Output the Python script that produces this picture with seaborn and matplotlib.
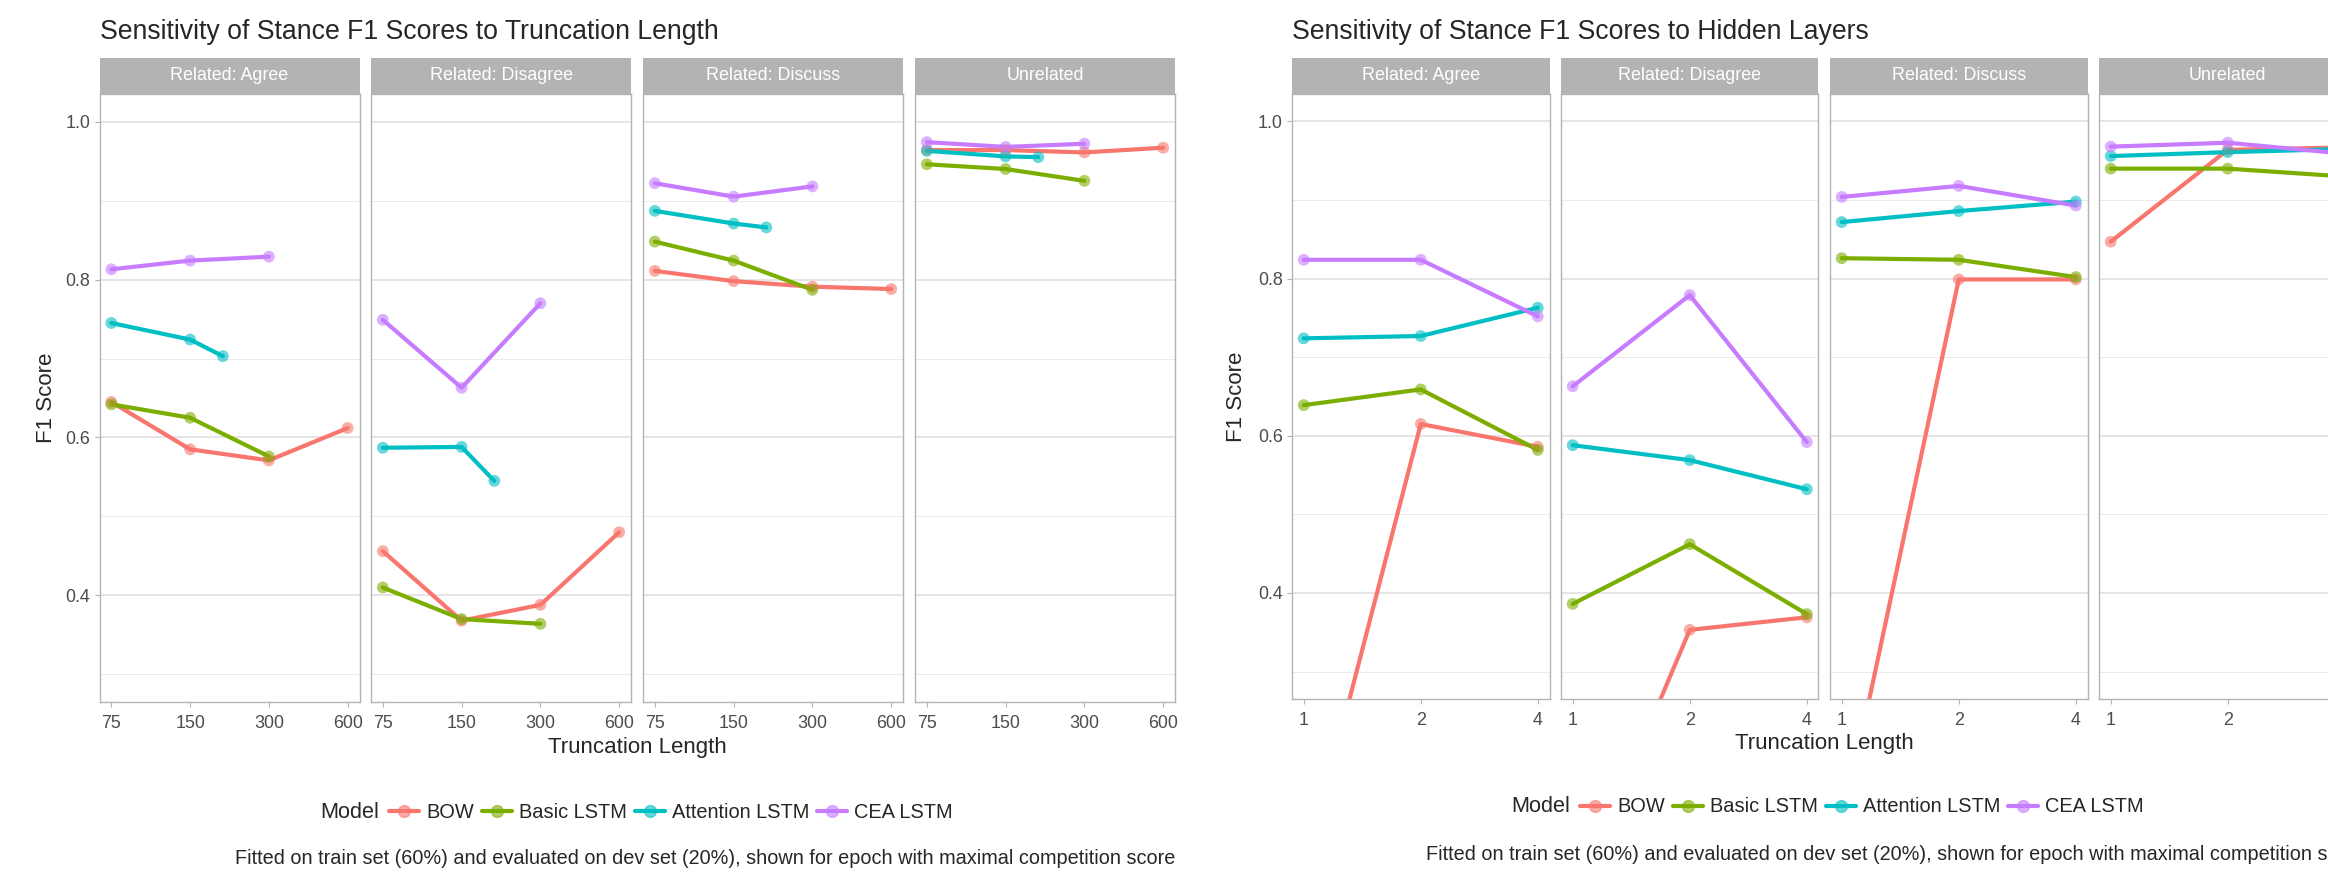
import numpy as np
import pandas as pd
import seaborn as sns
import matplotlib.pyplot as plt
import matplotlib.colors as mcolors
from matplotlib.lines import Line2D
from matplotlib.ticker import NullLocator

W, H = 2328, 873

stances = ['Related: Agree', 'Related: Disagree', 'Related: Discuss', 'Unrelated']
models = ['BOW', 'Basic LSTM', 'Attention LSTM', 'CEA LSTM']
palette = ['#F8766D', '#7CAE00', '#00BFC4', '#C77CFF']

# truncation length experiment: x values per model
trunc_x_bow = [75, 150, 300, 600]
trunc_x_basic = [75, 150, 300]
trunc_x_attn = [75, 150, 200]
trunc_x_cea = [75, 150, 300]
trunc_ticks = [75, 150, 300, 600]

# F1 per stance (Agree, Disagree, Discuss, Unrelated)
trunc_bow = [[0.645, 0.585, 0.571, 0.612], [0.456, 0.368, 0.388, 0.480],
             [0.811, 0.798, 0.791, 0.788], [0.964, 0.964, 0.961, 0.967]]
trunc_basic = [[0.642, 0.625, 0.576], [0.410, 0.370, 0.364],
               [0.848, 0.824, 0.787], [0.946, 0.940, 0.925]]
trunc_attn = [[0.745, 0.724, 0.703], [0.587, 0.588, 0.545],
              [0.887, 0.871, 0.866], [0.963, 0.956, 0.955]]
trunc_cea = [[0.813, 0.824, 0.829], [0.749, 0.663, 0.770],
             [0.922, 0.905, 0.918], [0.974, 0.968, 0.972]]

# hidden layers experiment
layer_x = [1, 2, 4]
layer_ticks = [1, 2, 4]
layer_bow = [[0.04, 0.615, 0.586], [0.0, 0.353, 0.369],
             [0.10, 0.799, 0.799], [0.847, 0.964, 0.967]]
layer_basic = [[0.639, 0.659, 0.582], [0.386, 0.462, 0.373],
               [0.826, 0.824, 0.802], [0.940, 0.940, 0.930]]
layer_attn = [[0.724, 0.727, 0.763], [0.588, 0.569, 0.532],
              [0.872, 0.886, 0.898], [0.956, 0.961, 0.965]]
layer_cea = [[0.824, 0.824, 0.752], [0.663, 0.779, 0.592],
             [0.904, 0.918, 0.893], [0.968, 0.973, 0.959]]

caption = ('Fitted on train set (60%) and evaluated on dev set (20%), '
           'shown for epoch with maximal competition score')


def build(xs, ys):
    rows = []
    for m, x, per_stance in zip(models, xs, ys):
        for s, vals in zip(stances, per_stance):
            for xv, v in zip(x, vals):
                rows.append((m, s, xv, v))
    return pd.DataFrame(rows, columns=['Model', 'Stance', 'x', 'F1'])


df_trunc = build([trunc_x_bow, trunc_x_basic, trunc_x_attn, trunc_x_cea],
                 [trunc_bow, trunc_basic, trunc_attn, trunc_cea])
df_layer = build([layer_x] * 4, [layer_bow, layer_basic, layer_attn, layer_cea])

sns.set_theme(style='white')
plt.rcParams['font.family'] = ['Liberation Sans', 'DejaVu Sans']

fig = plt.figure(figsize=(W / 100, H / 100), dpi=100)

GREY = '#B3B3B3'
TXT = '#4D4D4D'
LW = 3.0
MS = 8.5


def fx(x):
    return x / W


def fy(y):
    return 1 - y / H


def draw_panel(df, lefts, width, top, bottom, ticks, xlim, title, dx, dy):
    for i, (stance, left) in enumerate(zip(stances, lefts)):
        ax = fig.add_axes([fx(left), fy(bottom), width / W, (bottom - top) / H])
        d = df[df['Stance'] == stance]
        sns.lineplot(data=d, x='x', y='F1', hue='Model', hue_order=models,
                     palette=palette, lw=LW, legend=False, errorbar=None, ax=ax)
        sns.scatterplot(data=d, x='x', y='F1', hue='Model', hue_order=models,
                        palette=palette, s=MS ** 2, alpha=0.6, linewidth=0,
                        legend=False, ax=ax, zorder=3)
        ax.set_xscale('log', base=2)
        ax.set_xlim(*xlim)
        ax.set_ylim(0.265, 1.035)
        # only ticks that fall inside the figure get a label
        shown = [t for t in ticks
                 if left + width * np.log2(t / xlim[0]) / np.log2(xlim[1] / xlim[0]) < W]
        ax.set_xticks(shown, [str(t) for t in shown])
        ax.xaxis.set_minor_locator(NullLocator())
        ax.set_yticks([0.4, 0.6, 0.8, 1.0])
        ax.set_yticks([0.3, 0.5, 0.7, 0.9], minor=True)
        ax.grid(axis='y', which='major', color='#DEDEDE', lw=1.1)
        ax.grid(axis='y', which='minor', color='#EBEBEB', lw=0.7)
        ax.grid(axis='x', visible=False)
        ax.set_axisbelow(True)
        ax.set_xlabel('')
        ax.set_ylabel('')
        for sp in ax.spines.values():
            sp.set_color(GREY)
            sp.set_linewidth(1.0)
        ax.tick_params(axis='x', length=3.6, width=0.8, color=GREY,
                       labelsize=12.9, labelcolor=TXT, pad=5.5, bottom=True)
        ax.tick_params(axis='y', which='minor', length=0)
        if i == 0:
            ax.set_yticklabels(['0.4', '0.6', '0.8', '1.0'])
            ax.tick_params(axis='y', which='major', length=3.6, width=0.8,
                           color=GREY, labelsize=12.9, labelcolor=TXT, pad=3,
                           left=True)
        else:
            ax.tick_params(axis='y', which='major', length=0, labelleft=False)

        # facet strip
        sax = fig.add_axes([fx(left), fy(top), width / W, 36 / H])
        sax.set_facecolor(GREY)
        sax.set_xticks([])
        sax.set_yticks([])
        for sp in sax.spines.values():
            sp.set_visible(False)
        sax.text(0.5, 0.5, stance, color='white', fontsize=12.9,
                 ha='center', va='center', transform=sax.transAxes)

    mid = (lefts[0] + lefts[-1] + width) / 2
    fig.text(fx(lefts[0]), fy(32), title, fontsize=19.2, ha='left', va='center')
    fig.text(fx(46 + dx), fy((top + bottom) / 2), 'F1 Score', fontsize=16,
             rotation=90, ha='center', va='center')
    fig.text(fx(mid), fy(748 + dy), 'Truncation Length', fontsize=16,
             ha='center', va='center')

    # legend: title on the left, keys in a row
    fig.text(fx(320 + dx), fy(812 + dy), 'Model', fontsize=15.6,
             ha='left', va='center')
    handles = []
    for m, c in zip(models, palette):
        fc = mcolors.to_rgba(c, 0.6)
        handles.append(Line2D([0], [0], color=c, lw=LW, marker='o',
                              markersize=MS, markerfacecolor=fc,
                              markeredgecolor=fc, label=m))
    fig.legend(handles=handles, loc='center left',
               bbox_to_anchor=(fx(389 + dx), fy(812 + dy)), ncol=4,
               frameon=False, fontsize=14.4, handlelength=1.5,
               handletextpad=0.35, columnspacing=0.4, borderpad=0,
               borderaxespad=0)

    fig.text(fx(1175 + dx), fy(859 + dy), caption, fontsize=14.35,
             ha='right', va='center')


draw_panel(df_trunc, [99.5, 371, 643, 915], 260, 94, 702, trunc_ticks,
           (75 / 2 ** 0.15, 600 * 2 ** 0.15),
           'Sensitivity of Stance F1 Scores to Truncation Length', 0, 0)
draw_panel(df_layer, [1292, 1561, 1830, 2099], 257.5, 94, 699, layer_ticks,
           (1 / 2 ** 0.1, 4 * 2 ** 0.1),
           'Sensitivity of Stance F1 Scores to Hidden Layers', 1191, -5)

fig.savefig('out.png', dpi=100)
